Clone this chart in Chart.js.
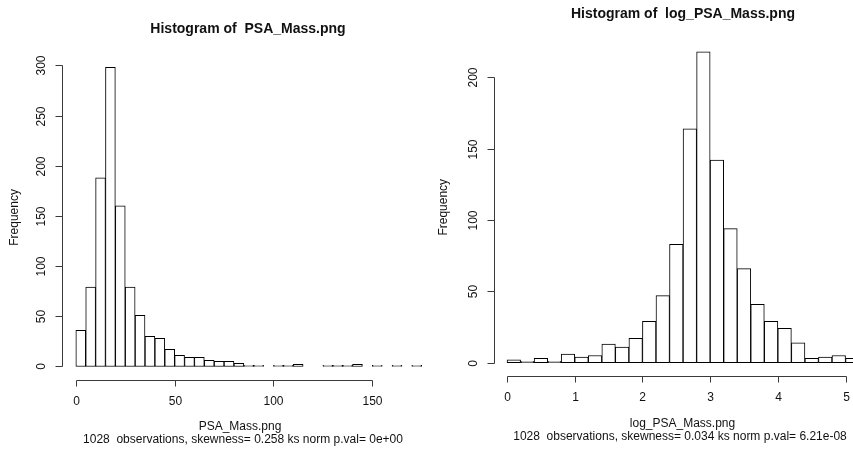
<!DOCTYPE html>
<html>
<head>
<meta charset="utf-8">
<script src="https://cdn.jsdelivr.net/npm/chart.js@4.4.1/dist/chart.umd.min.js"></script>
<style>
  html, body { margin: 0; padding: 0; background: #fff; overflow: hidden; }
  #wrap { position: relative; width: 853px; height: 453px; }
  canvas { position: absolute; top: 0; }
  #massChart { left: 0; }
  #logChart { left: 430px; }
</style>
</head>
<body>
<div id="wrap">
  <canvas id="massChart" width="430" height="453"></canvas>
  <canvas id="logChart" width="423" height="453"></canvas>
</div>
<script>
// PSA_Mass: lower bin edges (bin width 5) and counts per bin
const massBins = [0, 5, 10, 15, 20, 25, 30, 35, 40, 45, 50, 55, 60, 65, 70, 75, 80, 85, 90, 95,
                  100, 105, 110, 115, 120, 125, 130, 135, 140, 145, 150, 155, 160, 165, 170];
const massCounts = [36, 79, 188, 298, 160, 79, 51, 30, 28, 17, 11, 9, 9, 6, 5, 5, 3, 1, 1, 0,
                    1, 1, 2, 0, 0, 1, 1, 1, 2, 0, 1, 0, 1, 0, 1];
const massXTicks = [0, 50, 100, 150];
const massYTicks = [0, 50, 100, 150, 200, 250, 300];

// log_PSA_Mass: lower bin edges (bin width 0.2) and counts per bin
const logBins = [0, 0.2, 0.4, 0.6, 0.8, 1.0, 1.2, 1.4, 1.6, 1.8, 2.0, 2.2, 2.4, 2.6, 2.8,
                 3.0, 3.2, 3.4, 3.6, 3.8, 4.0, 4.2, 4.4, 4.6, 4.8, 5.0];
const logCounts = [2, 1, 3, 1, 6, 4, 5, 13, 11, 17, 29, 47, 83, 164, 218,
                   142, 94, 66, 41, 29, 24, 14, 3, 4, 5, 3];
const logXTicks = [0, 1, 2, 3, 4, 5];
const logYTicks = [0, 50, 100, 150, 200];

const FONT = '"Liberation Sans", Arial, Helvetica, sans-serif';

// Base-graphics style axes: lines span only the first..last tick, ticks point outward
const rAxes = {
  id: 'rAxes',
  afterDraw(chart, args, o) {
    const { ctx, chartArea } = chart;
    const x = chart.scales.x, y = chart.scales.y;
    const axY = Math.round(chartArea.bottom) + 0.5;
    const axX = Math.round(chartArea.left) + 0.5;
    const xs = o.xTicks.map(v => Math.round(x.getPixelForValue(v)) + 0.5);
    const ys = o.yTicks.map(v => Math.round(y.getPixelForValue(v)) + 0.5);

    ctx.save();
    ctx.strokeStyle = '#3a3a3a';
    ctx.lineWidth = 1;
    ctx.beginPath();
    ctx.moveTo(xs[0], axY); ctx.lineTo(xs[xs.length - 1], axY);
    xs.forEach(px => { ctx.moveTo(px, axY); ctx.lineTo(px, axY + 6); });
    ctx.moveTo(axX, ys[0]); ctx.lineTo(axX, ys[ys.length - 1]);
    ys.forEach(py => { ctx.moveTo(axX, py); ctx.lineTo(axX - 7, py); });
    ctx.stroke();

    ctx.fillStyle = '#111';
    ctx.textAlign = 'center';
    ctx.textBaseline = 'middle';
    ctx.font = '12px ' + FONT;
    o.xTicks.forEach((v, i) => ctx.fillText(String(v), xs[i], axY + 21));
    o.yTicks.forEach((v, i) => {
      ctx.save();
      ctx.translate(axX - 21, ys[i]);
      ctx.rotate(-Math.PI / 2);
      ctx.fillText(String(v), 0, 0);
      ctx.restore();
    });

    // y axis title
    ctx.save();
    ctx.translate(o.ylabX, (chartArea.top + chartArea.bottom) / 2);
    ctx.rotate(-Math.PI / 2);
    ctx.fillText('Frequency', 0, 0);
    ctx.restore();

    // x axis title and subtitle
    ctx.fillText(o.xlab, o.xlabPos[0], o.xlabPos[1]);
    ctx.fillText(o.sub, o.subPos[0], o.subPos[1]);

    // main title
    ctx.font = 'bold 14px ' + FONT;
    ctx.fillText(o.title, o.titlePos[0], o.titlePos[1]);
    ctx.restore();
  }
};

function histogram(canvasId, bins, counts, cfg) {
  const w = bins[1] - bins[0];
  const points = bins.map((b, i) => ({ x: b + w / 2, y: counts[i] }));
  return new Chart(document.getElementById(canvasId), {
    type: 'bar',
    data: {
      datasets: [{
        data: points,
        backgroundColor: '#ffffff',
        borderColor: '#000000',
        borderWidth: 1,
        borderSkipped: false,
        barPercentage: 1,
        categoryPercentage: 1
      }]
    },
    options: {
      responsive: false,
      animation: false,
      devicePixelRatio: 1,
      layout: { padding: cfg.padding },
      scales: {
        x: { type: 'linear', min: cfg.xMin, max: cfg.xMax, offset: false, display: false },
        y: { type: 'linear', min: cfg.yMin, max: cfg.yMax, display: false }
      },
      plugins: {
        legend: { display: false },
        tooltip: { enabled: false },
        rAxes: cfg.axes
      }
    },
    plugins: [rAxes]
  });
}

histogram('massChart', massBins, massCounts, {
  padding: { left: 62, right: 0, top: 55.4, bottom: 73.5 },
  xMin: -7, xMax: 179.2, yMin: -13, yMax: 310,
  axes: {
    xTicks: massXTicks, yTicks: massYTicks,
    ylabX: 15,
    title: 'Histogram of  PSA_Mass.png', titlePos: [248, 29],
    xlab: 'PSA_Mass.png', xlabPos: [240, 426.5],
    sub: '1028  observations, skewness= 0.258 ks norm p.val= 0e+00', subPos: [243, 439.5]
  }
});

histogram('logChart', logBins, logCounts, {
  padding: { left: 63.5, right: 0, top: 39, bottom: 77.5 },
  xMin: -0.2, xMax: 5.11, yMin: -9, yMax: 227,
  axes: {
    xTicks: logXTicks, yTicks: logYTicks,
    ylabX: 13.5,
    title: 'Histogram of  log_PSA_Mass.png', titlePos: [253, 14],
    xlab: 'log_PSA_Mass.png', xlabPos: [252.5, 423.5],
    sub: '1028  observations, skewness= 0.034 ks norm p.val= 6.21e-08', subPos: [250, 437]
  }
});
</script>
</body>
</html>
